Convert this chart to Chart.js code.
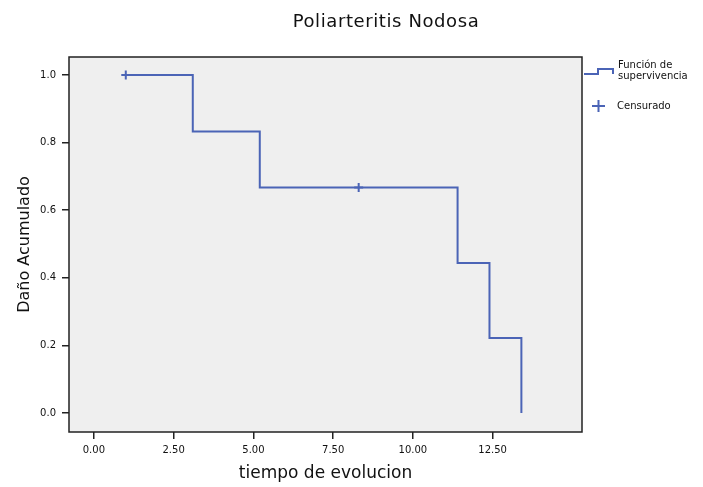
<!DOCTYPE html>
<html>
<head>
<meta charset="utf-8">
<script src="https://cdn.jsdelivr.net/npm/chart.js@4"></script>
<style>
  html, body { margin: 0; padding: 0; background: #fff; }
  #wrap { width: 703px; height: 487px; }
</style>
</head>
<body>
<div id="wrap"><canvas id="chart" width="703" height="487"></canvas></div>
<script>
// Kaplan-Meier steps (time, cumulative survival)
const stepTimes = [1, 3.1, 5.2, 11.4, 12.4, 13.4];
const stepValues = [1.0, 0.833, 0.667, 0.444, 0.222, 0.0];
// censored cases
const censorTimes = [1, 8.3];
const censorValues = [1.0, 0.667];

const xTicks = [0, 2.5, 5, 7.5, 10, 12.5];
const xTickLabels = ['0.00', '2.50', '5.00', '7.50', '10.00', '12.50'];
const yTicks = [0, 0.2, 0.4, 0.6, 0.8, 1.0];
const yTickLabels = ['0.0', '0.2', '0.4', '0.6', '0.8', '1.0'];

const BLUE = '#4b64b6';
const FONT = "'DejaVu Sans', Verdana, sans-serif";

const stepPoints = stepTimes.map((t, i) => ({ x: t, y: stepValues[i] }));
const censorPoints = censorTimes.map((t, i) => ({ x: t, y: censorValues[i] }));

// grey plot area, frame, title and legend
const frame = {
    id: 'frame',
    beforeDatasetsDraw(chart) {
        const { ctx, chartArea: a } = chart;
        ctx.save();
        ctx.fillStyle = '#efefef';
        ctx.fillRect(a.left, a.top, a.right - a.left, a.bottom - a.top);
        ctx.restore();
    },
    afterDraw(chart) {
        const { ctx, chartArea: a } = chart;
        ctx.save();
        ctx.strokeStyle = '#222';
        ctx.lineWidth = 1.5;
        ctx.strokeRect(a.left, a.top, a.right - a.left, a.bottom - a.top);

        ctx.fillStyle = '#111';
        ctx.font = '18px ' + FONT;
        ctx.letterSpacing = '0.6px';
        ctx.textAlign = 'center';
        ctx.textBaseline = 'middle';
        ctx.fillText('Poliarteritis Nodosa', 386, 22);
        ctx.letterSpacing = '0px';

        // legend
        ctx.strokeStyle = BLUE;
        ctx.lineWidth = 2;
        ctx.beginPath();
        ctx.moveTo(584, 74);
        ctx.lineTo(598, 74);
        ctx.lineTo(598, 69);
        ctx.lineTo(613, 69);
        ctx.lineTo(613, 74);
        ctx.stroke();
        ctx.beginPath();
        ctx.moveTo(592, 106); ctx.lineTo(605, 106);
        ctx.moveTo(598.5, 100); ctx.lineTo(598.5, 112);
        ctx.stroke();

        ctx.fillStyle = '#111';
        ctx.font = '10px ' + FONT;
        ctx.textAlign = 'left';
        ctx.fillText('Función de', 618, 65);
        ctx.fillText('supervivencia', 618, 76);
        ctx.fillText('Censurado', 617, 106);
        ctx.restore();
    }
};

new Chart(document.getElementById('chart'), {
    type: 'scatter',
    data: {
        datasets: [
            {
                label: 'Función de supervivencia',
                data: stepPoints,
                showLine: true,
                stepped: 'before',
                borderColor: BLUE,
                borderWidth: 2,
                pointRadius: 0,
                fill: false
            },
            {
                label: 'Censurado',
                data: censorPoints,
                showLine: false,
                pointStyle: 'cross',
                pointRadius: 4.5,
                borderColor: BLUE,
                borderWidth: 2,
                backgroundColor: BLUE
            }
        ]
    },
    options: {
        responsive: false,
        animation: false,
        layout: { padding: { top: 57, right: 121, left: 15, bottom: 3 } },
        plugins: {
            legend: { display: false },
            tooltip: { enabled: false }
        },
        scales: {
            x: {
                type: 'linear',
                min: -0.78,
                max: 15.3,
                afterBuildTicks(scale) {
                    scale.ticks = xTicks.map(v => ({ value: v }));
                },
                afterFit(scale) { scale.height = 52; },
                ticks: {
                    callback: (v) => xTickLabels[xTicks.indexOf(v)],
                    color: '#111',
                    font: { family: FONT, size: 10 },
                    padding: 5,
                    maxRotation: 0
                },
                grid: { drawOnChartArea: false, drawTicks: true, tickLength: 7, color: '#222', lineWidth: 1.5 },
                border: { display: false },
                title: {
                    display: true,
                    text: 'tiempo de evolucion',
                    color: '#111',
                    font: { family: FONT, size: 17 },
                    padding: { top: 4, bottom: 0 }
                }
            },
            y: {
                type: 'linear',
                min: -0.056,
                max: 1.053,
                afterBuildTicks(scale) {
                    scale.ticks = yTicks.map(v => ({ value: v }));
                },
                afterFit(scale) { scale.width = 54; },
                ticks: {
                    callback: (v) => yTickLabels[yTicks.indexOf(v)],
                    color: '#111',
                    font: { family: FONT, size: 10 },
                    padding: 6
                },
                grid: { drawOnChartArea: false, drawTicks: true, tickLength: 7, color: '#222', lineWidth: 1.5 },
                border: { display: false },
                title: {
                    display: true,
                    text: 'Daño Acumulado',
                    color: '#111',
                    font: { family: FONT, size: 16 },
                    padding: { top: 0, bottom: 4 }
                }
            }
        }
    },
    plugins: [frame]
});
</script>
</body>
</html>
